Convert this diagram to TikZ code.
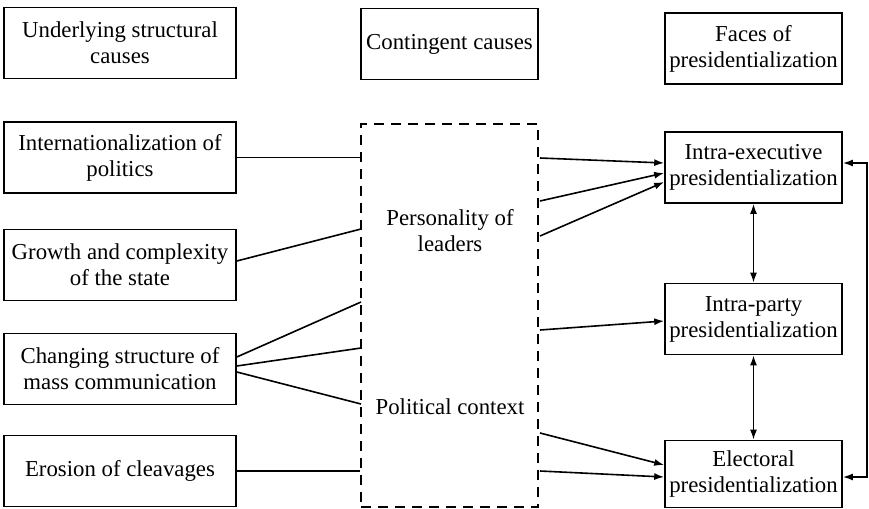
\documentclass[tikz,border=0pt]{standalone}
\usepackage{fontspec}
\setmainfont{Liberation Serif}
\usetikzlibrary{arrows.meta}

\tikzset{
  plainbox/.style={draw, line width=0.8pt, align=center, inner sep=1pt, font=\rmfamily\fontsize{11.4}{13}\selectfont},
  causebox/.style={plainbox, minimum width=116pt, minimum height=35.5pt},
  facebox/.style={plainbox, minimum width=88.5pt, minimum height=35.5pt},
  plaintext/.style={align=center, inner sep=1pt, font=\rmfamily\fontsize{11.4}{13}\selectfont},
  link/.style={line width=0.8pt},
  arr/.style={line width=0.8pt, -{Latex[length=5pt,width=3.5pt]}},
  dblarr/.style={line width=0.8pt, {Latex[length=5pt,width=3.5pt]}-{Latex[length=5pt,width=3.5pt]}},
}

\begin{document}
\begin{tikzpicture}[x=0.5pt,y=-0.5pt]
\useasboundingbox (0,0) rectangle (869,509);

% column heads
\node[causebox] (usc) at (120,43) {Underlying structural\\causes};
\node[facebox] (cont) at (449.5,44) {Contingent causes};
\node[facebox] (faces) at (753.5,48.5) {Faces of\\presidentialization};

% underlying structural causes
\node[causebox] (intl) at (120,157.5) {Internationalization of\\politics};
\node[causebox] (growth) at (120,265) {Growth and complexity\\of the state};
\node[causebox] (comm) at (120,369) {Changing structure of\\mass communication};
\node[causebox] (erosion) at (120,471) {Erosion of cleavages};

% contingent causes
\node[draw, line width=0.8pt, dash pattern=on 5pt off 3.5pt,
      minimum width=88.5pt, minimum height=191.5pt] (ctx) at (449.5,315.5) {};
\node[plaintext] (pers) at (450,231) {Personality of\\leaders};
\node[plaintext] (pol) at (450,407) {Political context};

% faces of presidentialization
\node[facebox] (exec) at (753.5,167.5) {Intra-executive\\presidentialization};
\node[facebox] (party) at (753.5,319) {Intra-party\\presidentialization};
\node[facebox, minimum height=33.5pt] (elect) at (753.5,474) {Electoral\\presidentialization};

\foreach \n/\y in {1/229,2/302,3/348,4/404}
{
\coordinate (l\n) at (361,\y);
}
\foreach \n/\y in {1/158,2/201,3/236,4/330,5/433,6/471}
{
\coordinate (r\n) at (540,\y);
}

\draw[link] (intl.east) -- (intl.east -| ctx.west);
\draw[link] ([yshift=2pt]growth.east) -- (l1);
\draw[link] ([yshift=6pt]comm.east) -- (l2);
\draw[link] ([yshift=1.5pt]comm.east) -- (l3);
\draw[link] ([yshift=-1.5pt]comm.east) -- (l4);
\draw[link] (erosion.east) -- (erosion.east -| ctx.west);

\draw[arr] (r1) -- ([yshift=2.25pt]exec.west);
\draw[arr] (r2) -- ([yshift=-2.75pt]exec.west);
\draw[arr] (r3) -- ([yshift=-7.25pt]exec.west);
\draw[arr] (r4) -- ([yshift=-1pt]party.west);
\draw[arr] (r5) -- ([yshift=4.5pt]elect.west);
\draw[arr] (r6) -- ([yshift=-1.5pt]elect.west);

\draw[dblarr] (exec.south) -- (party.north);
\draw[dblarr] (party.south) -- (elect.north);
\draw[dblarr] ([yshift=2.25pt]exec.east) -- ++(24,0) |- ([yshift=-1.5pt]elect.east);
\end{tikzpicture}
\end{document}
